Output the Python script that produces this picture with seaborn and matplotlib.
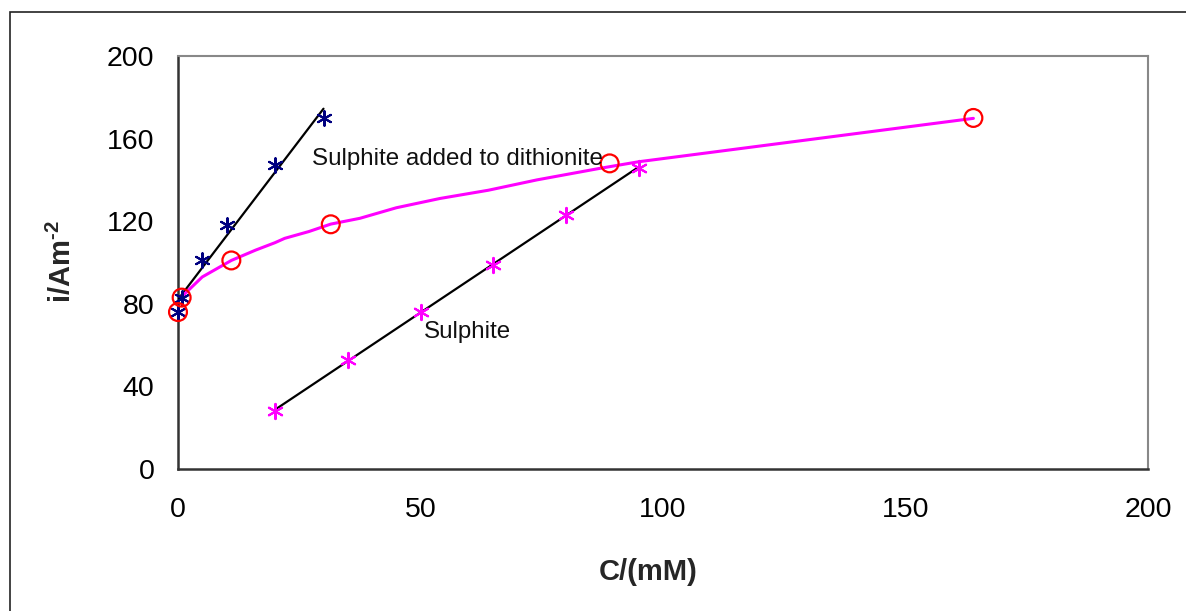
import matplotlib
matplotlib.use("Agg")
import matplotlib.pyplot as plt
import matplotlib.patches as mpatches
import numpy as np
import pandas as pd
import seaborn as sns

# ---- data ----
dith_x = [0, 0.75, 5, 10, 20, 30]            # dithionite (navy asterisks)
dith_y = [76, 83, 101, 118, 147, 170]

sulph_x = [20, 35, 50, 65, 80, 95]            # sulphite (magenta asterisks)
sulph_y = [28, 53, 76, 99, 123, 146]

mix_x = [0, 0.75, 11, 31.5, 89, 164]          # sulphite added to dithionite (red circles)
mix_y = [76, 83, 101, 118.5, 148, 170]

curve_x = [0.75, 5, 11, 16, 20, 22, 27, 31.5, 37.5, 45, 54, 64, 74, 87, 95, 164]
curve_y = [83.4, 93, 101, 106, 109.6, 111.7, 115, 118.6, 121.4, 126.5, 131, 135, 140, 145.6, 148.8, 169.8]

x_ticks = [0, 50, 100, 150, 200]
y_ticks = [0, 40, 80, 120, 160, 200]

label_mix = "Sulphite added to dithionite"
label_sulph = "Sulphite"

# ---- style ----
sns.set_style("white")
plt.rcParams["font.family"] = ["Liberation Sans", "DejaVu Sans"]
plt.rcParams["mathtext.fontset"] = "custom"
plt.rcParams["mathtext.rm"] = "Liberation Sans:bold"
plt.rcParams["mathtext.bf"] = "Liberation Sans:bold"

NAVY = "#000080"
MAGENTA = "#FF00FF"
RED = "#FF0000"

fig = plt.figure(figsize=(11.86, 6.11), dpi=100)
ax = fig.add_axes([178 / 1186, 1 - 469 / 611, 970 / 1186, 413 / 611])

# outer frame (cropped at right and bottom)
fig.patches.append(mpatches.Rectangle((10 / 1186, -0.2), 1.2, 1 - 12 / 611 + 0.2,
                                      transform=fig.transFigure, fill=False,
                                      edgecolor="#222222", linewidth=1.2, clip_on=False))

df_d = pd.DataFrame({"x": dith_x, "y": dith_y})
df_s = pd.DataFrame({"x": sulph_x, "y": sulph_y})
df_m = pd.DataFrame({"x": mix_x, "y": mix_y})
df_c = pd.DataFrame({"x": curve_x, "y": curve_y})

# fitted straight lines
sns.regplot(data=df_d, x="x", y="y", ax=ax, scatter=False, ci=None, truncate=True,
            line_kws=dict(color="black", lw=1.6, zorder=3))
sns.regplot(data=df_s, x="x", y="y", ax=ax, scatter=False, ci=None, truncate=True,
            line_kws=dict(color="black", lw=1.6, zorder=3))

# smooth curve
sns.lineplot(data=df_c, x="x", y="y", ax=ax, color=MAGENTA, lw=2.2, sort=False, zorder=3)

# markers
ast = (6, 2, 0)
sns.scatterplot(data=df_d, x="x", y="y", ax=ax, marker=ast, s=110, color=NAVY,
                linewidth=1.5, zorder=4, clip_on=False)
sns.scatterplot(data=df_s, x="x", y="y", ax=ax, marker=ast, s=120, color=MAGENTA,
                linewidth=1.5, zorder=4, clip_on=False)
sns.scatterplot(data=df_m, x="x", y="y", ax=ax, marker="o", s=165, facecolor="none",
                edgecolor=RED, linewidth=1.6, zorder=5, clip_on=False)

# annotations
ax.text(27.6, 147.2, label_mix, fontsize=17.4, color="#111111", ha="left", va="baseline", zorder=6)
ax.text(50.7, 63.4, label_sulph, fontsize=17.4, color="#111111", ha="left", va="baseline", zorder=6)

# axes
ax.set_xlim(0, 200)
ax.set_ylim(0, 200)
ax.set_xticks(x_ticks)
ax.set_yticks(y_ticks)
ax.tick_params(axis="both", labelsize=20.5, colors="black", direction="out", length=7, width=1.2)
ax.tick_params(axis="x", pad=13)
ax.tick_params(axis="y", pad=10)

for side in ["top", "right"]:
    ax.spines[side].set_color("#888888")
    ax.spines[side].set_linewidth(1.5)
for side in ["left", "bottom"]:
    ax.spines[side].set_color("#333333")
    ax.spines[side].set_linewidth(1.8)

ax.set_xlabel("C/(mM)", fontsize=21, fontweight="bold", va="center")
ax.xaxis.set_label_coords((648 - 178) / 970, (469 - 572) / 413)
ax.set_ylabel(r"i/Am$^{\text{-2}}$", fontsize=21, fontweight="bold", va="center")
ax.yaxis.set_label_coords((62 - 178) / 970, (469 - 262) / 413)

fig.savefig("out.png", dpi=100)
